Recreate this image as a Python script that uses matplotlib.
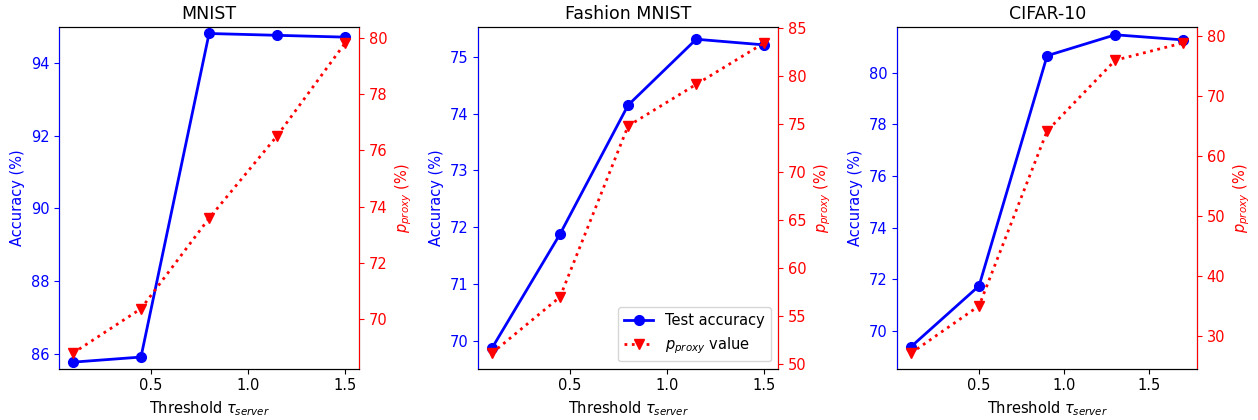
import matplotlib
matplotlib.use("Agg")
import matplotlib.pyplot as plt
from matplotlib.ticker import MultipleLocator

titles = ["MNIST", "Fashion MNIST", "CIFAR-10"]

x_mnist = [0.1, 0.45, 0.8, 1.15, 1.5]
acc_mnist = [85.78, 85.92, 94.80, 94.75, 94.70]
proxy_mnist = [68.80, 70.38, 73.59, 76.52, 79.82]

x_fashion = [0.1, 0.45, 0.8, 1.15, 1.5]
acc_fashion = [69.87, 71.88, 74.15, 75.31, 75.21]
proxy_fashion = [51.15, 57.0, 74.8, 79.13, 83.45]

x_cifar = [0.1, 0.5, 0.9, 1.3, 1.7]
acc_cifar = [69.38, 71.74, 80.66, 81.47, 81.27]
proxy_cifar = [27.1, 35.0, 64.2, 76.0, 78.9]

acc_ylims = [(85.60, 94.97), (69.51, 75.52), (68.53, 81.76)]

xs = [x_mnist, x_fashion, x_cifar]
accs = [acc_mnist, acc_fashion, acc_cifar]
proxies = [proxy_mnist, proxy_fashion, proxy_cifar]

plt.rcParams['xtick.labelsize'] = 10.5
plt.rcParams['ytick.labelsize'] = 10.5
plt.rcParams['axes.labelsize'] = 10.5

fig = plt.figure(figsize=(12.58, 4.2), dpi=100)
lefts = [0.0471, 0.3802, 0.7133]
for i in range(3):
    ax1 = fig.add_axes([lefts[i], 0.1221, 0.2382, 0.8129])
    l1, = ax1.plot(xs[i], accs[i], 'b-o', lw=2, ms=7, label='Test accuracy')
    ax1.set_ylim(*acc_ylims[i])
    ax1.xaxis.set_major_locator(MultipleLocator(0.5))
    ax1.set_ylabel('Accuracy (%)', color='blue')
    ax1.tick_params(axis='y', colors='blue')
    ax1.set_xlabel(r'Threshold $\tau_{server}$')
    ax1.set_title(titles[i], fontsize=12.5)
    ax2 = ax1.twinx()
    l2, = ax2.plot(xs[i], proxies[i], 'r:v', lw=2, ms=7, label=r'$p_{proxy}$ value')
    ax2.set_ylabel(r'$p_{proxy}$ (%)', color='red')
    ax2.tick_params(axis='y', colors='red')
    ax2.spines['left'].set_color('blue')
    ax2.spines['right'].set_color('red')
    if i == 1:
        ax2.legend([l1, l2], [l1.get_label(), l2.get_label()], loc='lower right', fontsize=10.5)

fig.savefig('out.png', dpi=100)
